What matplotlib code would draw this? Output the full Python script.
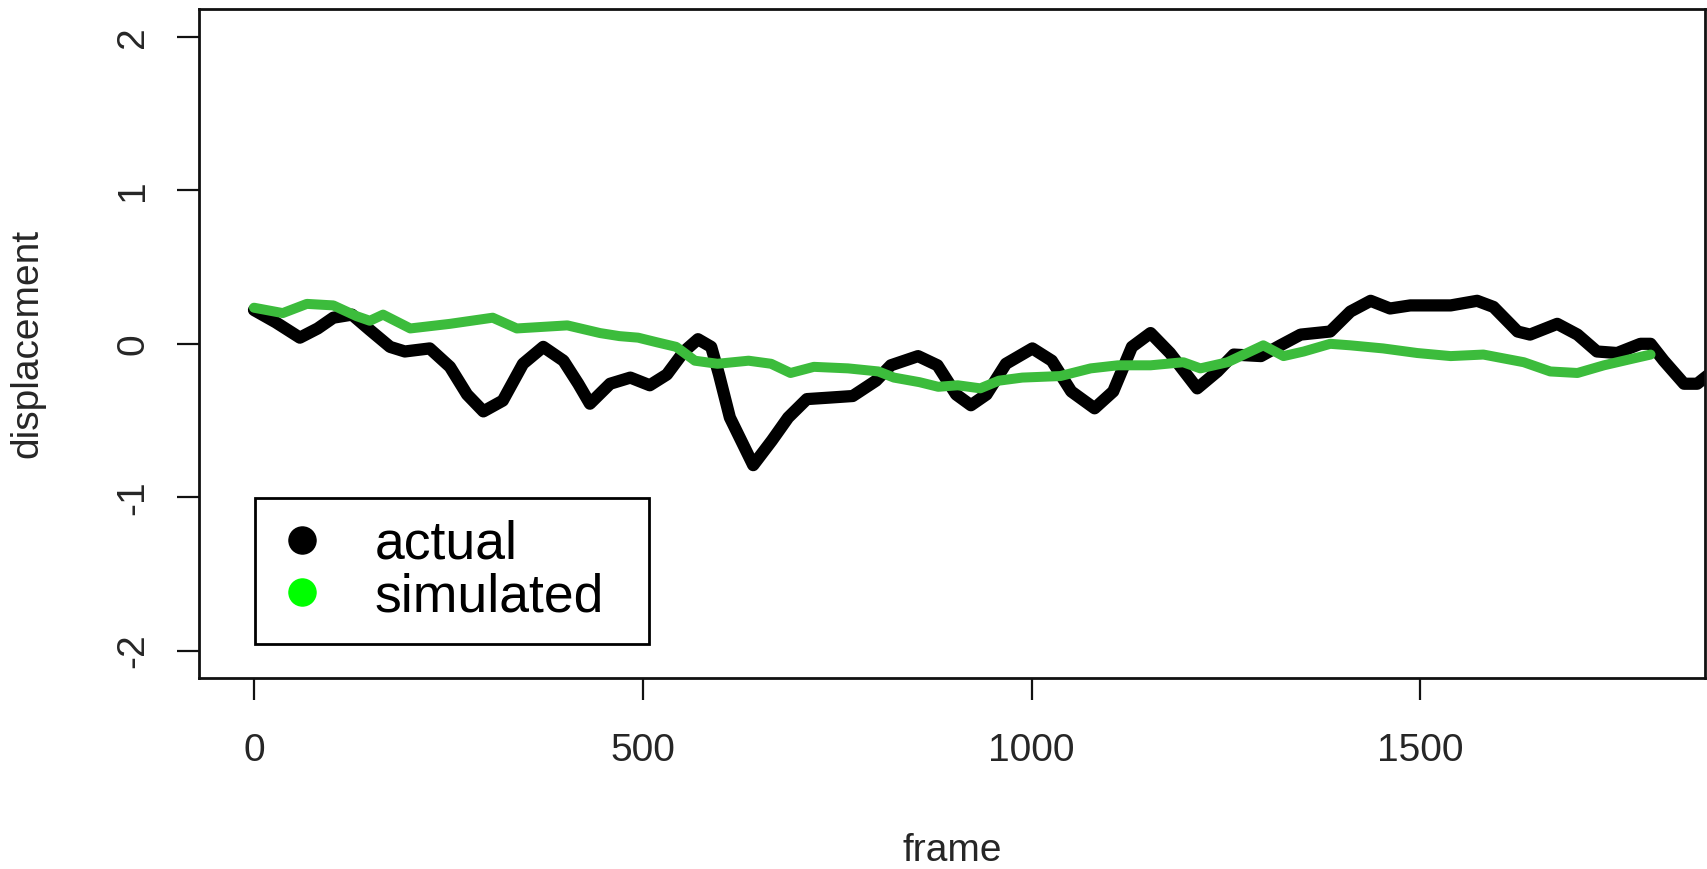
import matplotlib
matplotlib.use("Agg")
import matplotlib.pyplot as plt
from matplotlib.lines import Line2D

plt.rcParams['font.family'] = ['Liberation Sans', 'DejaVu Sans']

# actual displacement (black)
actual_frame = [0, 28, 59, 82, 102, 126, 149, 175, 194, 226, 252, 274, 295, 320, 346,
                372, 398, 417, 432, 458, 484, 509, 531, 553, 571, 588, 598, 612, 642,
                666, 687, 711, 741, 770, 800, 819, 854, 879, 903, 922, 942, 967, 1001,
                1026, 1051, 1081, 1105, 1129, 1153, 1178, 1213, 1239, 1260, 1295, 1320,
                1346, 1384, 1410, 1436, 1461, 1487, 1539, 1573, 1594, 1625, 1641, 1676,
                1702, 1727, 1753, 1783, 1796, 1813, 1839, 1856, 1871, 1885]
actual_disp = [0.22, 0.14, 0.04, 0.1, 0.17, 0.19, 0.09, -0.02, -0.05, -0.03, -0.15, -0.33,
               -0.44, -0.37, -0.13, -0.02, -0.11, -0.26, -0.39, -0.26, -0.22, -0.27, -0.2,
               -0.05, 0.03, -0.02, -0.2, -0.48, -0.79, -0.63, -0.48, -0.36, -0.35, -0.34,
               -0.24, -0.14, -0.08, -0.14, -0.33, -0.40, -0.33, -0.13, -0.03, -0.11, -0.31,
               -0.42, -0.31, -0.02, 0.07, -0.06, -0.29, -0.18, -0.07, -0.08, -0.01, 0.06,
               0.08, 0.21, 0.28, 0.23, 0.25, 0.25, 0.28, 0.24, 0.08, 0.06, 0.13, 0.06,
               -0.05, -0.06, 0.0, 0.0, -0.11, -0.26, -0.26, -0.2, -0.15]

# simulated displacement (green)
sim_frame = [0, 37, 68, 102, 132, 149, 166, 201, 252, 307, 338, 403, 445, 470, 494, 518,
             543, 567, 596, 636, 665, 690, 720, 764, 803, 823, 856, 880, 905, 934, 958,
             988, 1037, 1076, 1111, 1153, 1195, 1217, 1252, 1298, 1324, 1350, 1384, 1410,
             1452, 1496, 1539, 1581, 1633, 1667, 1702, 1736, 1770, 1796]
sim_disp = [0.235, 0.2, 0.26, 0.25, 0.18, 0.15, 0.19, 0.1, 0.13, 0.17, 0.1, 0.12, 0.07,
            0.05, 0.04, 0.01, -0.02, -0.11, -0.13, -0.11, -0.13, -0.19, -0.15, -0.16,
            -0.18, -0.22, -0.25, -0.28, -0.27, -0.29, -0.24, -0.22, -0.21, -0.16, -0.14,
            -0.14, -0.12, -0.16, -0.12, -0.01, -0.08, -0.05, 0.0, -0.01, -0.03, -0.06,
            -0.08, -0.07, -0.12, -0.18, -0.19, -0.14, -0.1, -0.07]

x_ticks = [0, 500, 1000, 1500]
y_ticks = [-2, -1, 0, 1, 2]
legend_labels = ["actual", "simulated"]

fig = plt.figure(figsize=(17.08, 8.69), dpi=100)
ax = fig.add_axes([199 / 1708, 1 - 678 / 869, 1506 / 1708, 669 / 869])

ax.plot(actual_frame, actual_disp, color="black", lw=8.8,
        solid_capstyle="round", solid_joinstyle="round")
ax.plot(sim_frame, sim_disp, color="#3cbc3c", lw=7.2,
        solid_capstyle="round", solid_joinstyle="round")

ax.set_xlim(-70.7, 1866)
ax.set_ylim(-2.176, 2.18)
ax.set_xticks(x_ticks)
ax.set_yticks(y_ticks)
ax.set_yticklabels([str(v) for v in y_ticks], rotation=90, va="center")

for sp in ax.spines.values():
    sp.set_linewidth(2.0)
    sp.set_color("#111111")

ax.tick_params(axis="both", direction="out", length=15.8, width=1.6,
               labelsize=28, labelcolor="#262626", color="#111111")
ax.tick_params(axis="x", pad=24)
ax.tick_params(axis="y", pad=18.5)

ax.set_xlabel("frame", fontsize=28, color="#262626")
ax.set_ylabel("displacement", fontsize=28, color="#262626")
ax.xaxis.set_label_coords(0.5, -0.2317)
ax.yaxis.set_label_coords(-0.1023, 0.5)

handles = [Line2D([], [], marker="o", linestyle="none", color="black", markersize=19.5),
           Line2D([], [], marker="o", linestyle="none", color="#00ff00", markersize=19.5)]
leg = ax.legend(handles, legend_labels, loc="upper left",
                bbox_to_anchor=(56 / 1506, 0.2691 - 146 / 669, 394 / 1506, 146 / 669),
                mode="expand", borderaxespad=0, borderpad=0.41, labelspacing=0.04,
                handlelength=0.93, handletextpad=0.9, fontsize=38.5,
                fancybox=False, framealpha=1, edgecolor="black")
leg.get_frame().set_linewidth(2.0)

fig.savefig("out.png", dpi=100)
